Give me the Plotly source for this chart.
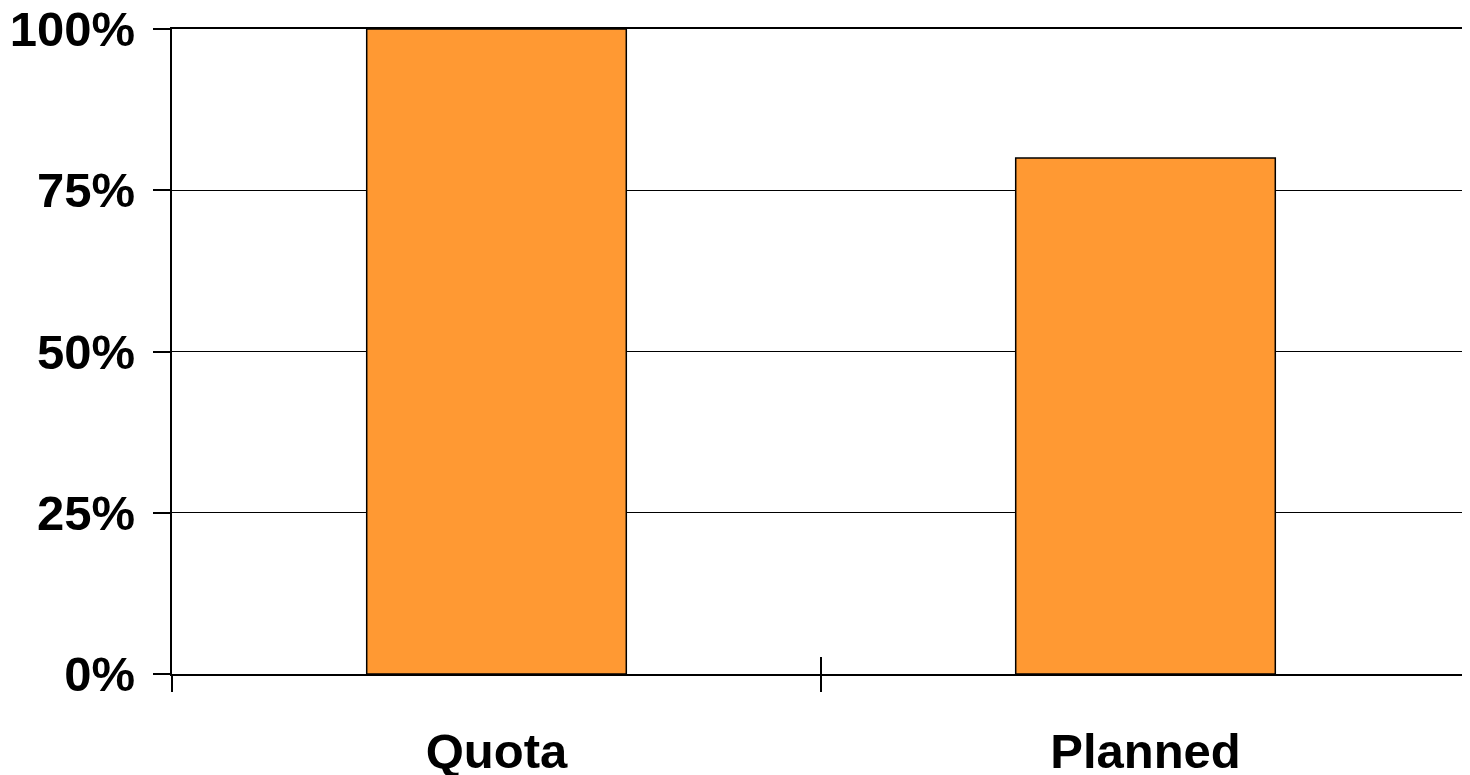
import plotly.graph_objects as go

categories = ["Quota", "Planned"]
values = [1.00, 0.80]
y_ticks = [0, 0.25, 0.5, 0.75, 1.0]
y_tick_labels = ["0%", "25%", "50%", "75%", "100%"]

font = dict(family="Liberation Sans, Arial, sans-serif", size=49, color="black", weight="bold")

fig = go.Figure()
fig.add_trace(go.Bar(
    x=categories, y=values,
    marker=dict(color="#FF9933", line=dict(color="black", width=1.5)),
    width=0.4, showlegend=False, hoverinfo="skip",
))
# invisible helper trace so the overlaid axis carries the crossing ticks
fig.add_trace(go.Scatter(
    x=categories, y=values, xaxis="x2", mode="markers",
    marker=dict(opacity=0), showlegend=False, hoverinfo="skip",
))

fig.update_layout(
    width=1462, height=775,
    margin=dict(l=164, r=0, t=21, b=109),
    paper_bgcolor="white", plot_bgcolor="white",
    font=font,
    xaxis=dict(
        type="category", categoryorder="array", categoryarray=categories,
        range=[-0.5, 1.5], tickson="boundaries", automargin=False,
        ticks="outside", ticklen=16, tickwidth=2, tickcolor="black",
        showline=True, linecolor="black", linewidth=2, mirror=True,
        showgrid=False, tickfont=font, ticklabelstandoff=33,
        ticklabeloverflow="allow",
    ),
    xaxis2=dict(
        type="category", categoryorder="array", categoryarray=categories,
        overlaying="x", matches="x", range=[-0.5, 1.5], tickson="boundaries",
        ticks="inside", ticklen=17, tickwidth=2, tickcolor="black", automargin=False,
        showticklabels=False, showline=False, showgrid=False, side="bottom",
    ),
    yaxis=dict(
        range=[0, 1.0], tickvals=y_ticks, ticktext=y_tick_labels, automargin=False,
        ticks="outside", ticklen=17, tickwidth=1.5, tickcolor="black",
        showline=True, linecolor="black", linewidth=2,
        showgrid=True, gridcolor="black", gridwidth=1.2,
        zeroline=False, tickfont=font, ticklabelstandoff=8,
        ticklabeloverflow="allow",
    ),
)

fig.write_html("out.html")
